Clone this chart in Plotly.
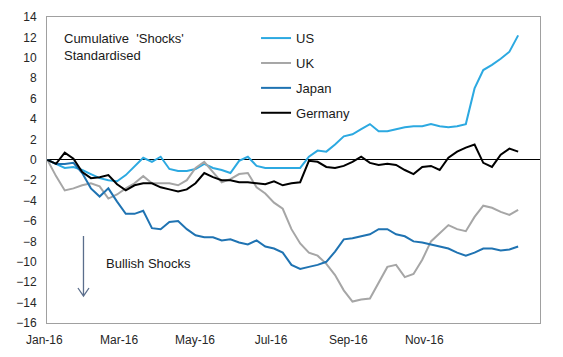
import pandas as pd
import plotly.graph_objects as go

# Weekly observation dates (55 weeks starting 1 Jan 2016)
dates = pd.date_range("2016-01-01", periods=55, freq="7D")

us = [0, -0.4, -0.8, -0.7, -1.0, -1.4, -1.8, -2.0, -2.1, -1.5,
      -0.7, 0.2, -0.2, 0.3, -0.9, -1.1, -1.1, -0.9, -0.4, -0.8,
      -1.0, -1.3, -0.1, 0.3, -0.6, -0.8, -0.8, -0.8, -0.8, -0.8,
      0.3, 0.9, 0.8, 1.5, 2.3, 2.5, 3.0, 3.5, 2.8, 2.8,
      3.0, 3.2, 3.3, 3.3, 3.5, 3.3, 3.2, 3.3, 3.5, 7.0,
      8.8, 9.3, 9.9, 10.6, 12.2]

uk = [0, -1.6, -3.0, -2.8, -2.5, -2.3, -2.6, -3.8, -3.4, -2.8,
      -2.3, -1.6, -2.3, -2.3, -2.3, -2.5, -2.0, -0.8, -0.2, -1.2,
      -2.2, -1.9, -1.4, -1.3, -2.7, -3.3, -4.2, -4.8, -6.8, -8.2,
      -9.1, -9.4, -10.2, -11.3, -12.8, -13.9, -13.7, -13.6, -12.1, -10.5,
      -10.3, -11.5, -11.2, -9.8, -8.0, -7.2, -6.4, -6.8, -7.0, -5.6,
      -4.5, -4.7, -5.1, -5.4, -4.9]

japan = [0, -0.4, -0.4, -0.3, -1.3, -2.8, -3.6, -2.8, -4.1, -5.3,
         -5.3, -5.0, -6.7, -6.8, -6.1, -6.0, -6.8, -7.4, -7.6, -7.6,
         -7.9, -7.8, -8.1, -8.3, -7.9, -8.5, -8.7, -9.1, -10.3, -10.7,
         -10.5, -10.3, -10.0, -9.0, -7.8, -7.7, -7.5, -7.3, -6.8, -6.8,
         -7.3, -7.5, -8.0, -8.1, -8.3, -8.5, -8.7, -9.1, -9.4, -9.1,
         -8.7, -8.7, -8.9, -8.8, -8.5]

germany = [0, -0.4, 0.7, 0.1, -1.2, -1.8, -1.7, -1.5, -2.4, -3.0,
           -2.5, -2.3, -2.3, -2.7, -2.9, -3.1, -2.9, -2.3, -1.3, -1.7,
           -2.0, -2.0, -2.2, -2.2, -2.3, -2.4, -2.1, -2.5, -2.3, -2.2,
           -0.1, -0.2, -0.7, -0.8, -0.6, -0.2, 0.3, -0.3, -0.5, -0.4,
           -0.5, -1.0, -1.4, -0.7, -0.6, -1.0, 0.2, 0.8, 1.2, 1.5,
           -0.3, -0.7, 0.5, 1.1, 0.8]

series_names = ["US", "UK", "Japan", "Germany"]
series_values = [us, uk, japan, germany]
series_colors = ["#2CA9E1", "#A6A6A6", "#1F73B2", "#000000"]

tick_dates = ["2016-01-01", "2016-03-01", "2016-05-01", "2016-07-01", "2016-09-01", "2016-11-01"]
tick_labels = ["Jan-16", "Mar-16", "May-16", "Jul-16", "Sep-16", "Nov-16"]
y_ticks = list(range(-16, 15, 2))

FONT = "Arial, Liberation Sans, Helvetica, sans-serif"

fig = go.Figure()
for i, (name, vals, col) in enumerate(zip(series_names, series_values, series_colors)):
    fig.add_trace(go.Scatter(
        x=dates, y=vals, name=name, mode="lines",
        line=dict(color=col, width=2),
        legendgroup=f"g{i}",
    ))

fig.update_layout(
    template="none",
    width=563, height=357,
    margin=dict(l=47, r=23, t=17, b=34, autoexpand=False),
    paper_bgcolor="white", plot_bgcolor="white",
    font=dict(family=FONT, size=12, color="#262626"),
    showlegend=True,
    legend=dict(
        x=0.424, y=0.98, xanchor="left", yanchor="top",
        bgcolor="rgba(0,0,0,0)", borderwidth=0,
        font=dict(family=FONT, size=13, color="#1a1a1a"),
        traceorder="grouped", tracegroupgap=5,
        itemwidth=30,
    ),
    xaxis=dict(
        type="date", automargin=False,
        range=["2015-12-31 18:00", "2017-01-30 13:00"],
        tickvals=tick_dates, ticktext=tick_labels,
        ticks="outside", ticklen=6, tickcolor="rgba(0,0,0,0)",
        ticklabelshift=-3,
        showgrid=False, zeroline=False,
        showline=True, linecolor="#A0A0A0", linewidth=1, mirror=True,
        tickfont=dict(family=FONT, size=12, color="#262626"),
    ),
    yaxis=dict(
        range=[-16, 14], tickvals=y_ticks, automargin=False,
        ticks="outside", ticklen=7, tickcolor="rgba(0,0,0,0)",
        showgrid=False,
        zeroline=True, zerolinecolor="#000000", zerolinewidth=1,
        showline=True, linecolor="#A0A0A0", linewidth=1, mirror=True,
        tickfont=dict(family=FONT, size=12, color="#262626"),
    ),
)

fig.add_annotation(
    xref="paper", yref="paper", x=0.031, y=0.962,
    xanchor="left", yanchor="top", align="left",
    text="Cumulative \u00a0'Shocks'<br>Standardised",
    showarrow=False,
    font=dict(family=FONT, size=13, color="#1a1a1a"),
)

fig.add_annotation(
    xref="paper", yref="paper", x=0.116, y=0.196,
    xanchor="left", yanchor="middle",
    text="Bullish Shocks", showarrow=False,
    font=dict(family=FONT, size=13, color="#1a1a1a"),
)

# downward arrow (open V head)
ax_x = 0.074
fig.add_shape(
    type="path", xref="paper", yref="paper",
    path=(f"M {ax_x},0.284 L {ax_x},0.088 "
          f"M {ax_x-0.0112},0.1144 L {ax_x},0.088 L {ax_x+0.0112},0.1144"),
    line=dict(color="#5B6E8C", width=1.3),
)

fig.write_html(
    "out.html",
    config={"displayModeBar": False, "staticPlot": True},
    post_script="document.body.style.margin='0';document.body.style.overflow='hidden';",
)
